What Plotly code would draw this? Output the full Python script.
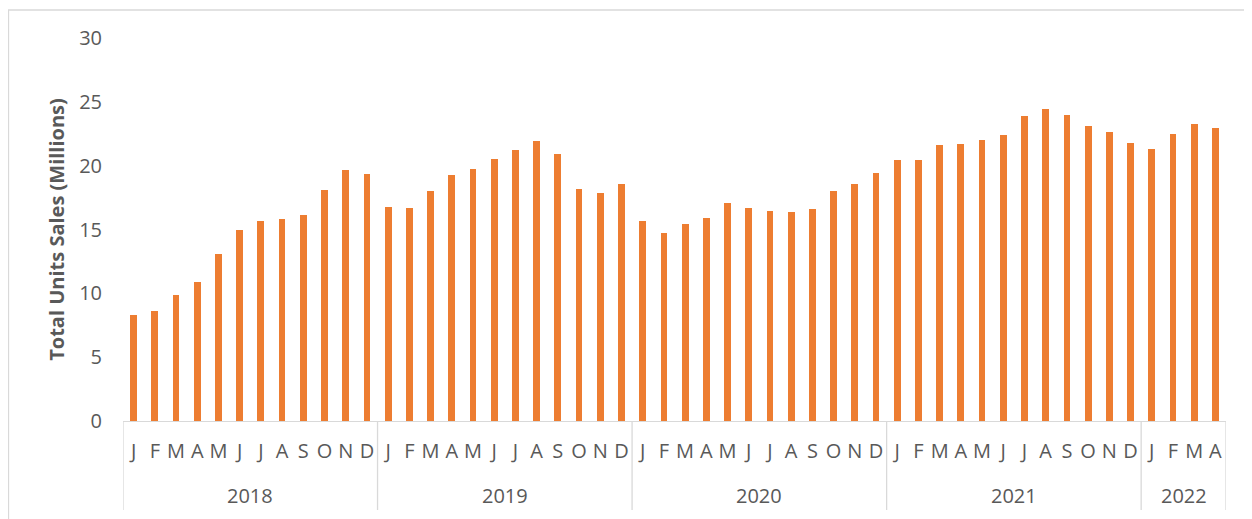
import plotly.graph_objects as go

years = ["2018", "2019", "2020", "2021", "2022"]
months_per_year = [12, 12, 12, 12, 4]
month_letters = ["J", "F", "M", "A", "M", "J", "J", "A", "S", "O", "N", "D"]

sales_2018 = [8.3, 8.6, 9.9, 10.9, 13.1, 15.0, 15.7, 15.8, 16.1, 18.1, 19.65, 19.35]
sales_2019 = [16.8, 16.7, 18.0, 19.25, 19.75, 20.55, 21.2, 21.9, 20.9, 18.15, 17.85, 18.55]
sales_2020 = [15.65, 14.75, 15.4, 15.9, 17.05, 16.7, 16.45, 16.35, 16.6, 18.05, 18.55, 19.45]
sales_2021 = [20.45, 20.45, 21.6, 21.7, 22.0, 22.4, 23.9, 24.4, 24.0, 23.1, 22.65, 21.8]
sales_2022 = [21.3, 22.5, 23.25, 22.95]

series = [sales_2018, sales_2019, sales_2020, sales_2021, sales_2022]

x_idx, y_vals, tick_text = [], [], []
for n, vals in zip(months_per_year, series):
    for i in range(n):
        x_idx.append(len(x_idx))
        y_vals.append(vals[i])
        tick_text.append(month_letters[i])

# page body has an 8px margin; positions below are in page pixels
OFF = 8
W, H = 1252 - OFF, 519 - OFF
L, R, T, B = 123 - OFF, 1226 - OFF, 38 - OFF, 421 - OFF
grey = "#595959"
line_grey = "#d9d9d9"
FONT = "Open Sans"

def py(page_pix):
    return (B - (page_pix - OFF)) / (B - T)

def px(page_pix):
    return ((page_pix - OFF) - L) / (R - L)

fig = go.Figure(go.Bar(
    x=x_idx, y=y_vals, width=0.32, marker=dict(color="#ED7D31", line=dict(width=0)),
))

shapes = []
annotations = []
start = 0
bounds = [-0.5]
for yr, n in zip(years, months_per_year):
    annotations.append(dict(x=start + (n - 1) / 2, y=py(495), xref="x", yref="paper",
                            text=yr, showarrow=False, yanchor="middle",
                            font=dict(family=FONT, size=20, color=grey)))
    start += n
    bounds.append(start - 0.5)
for b in bounds:
    shapes.append(dict(type="line", xref="x", yref="paper", x0=b, x1=b, y0=0, y1=py(510),
                       line=dict(color=line_grey, width=1.3)))
# outer chart border
shapes.append(dict(type="rect", xref="paper", yref="paper", x0=px(8.5), x1=px(1270),
                   y0=py(540), y1=py(10), line=dict(color=line_grey, width=1.3)))

fig.update_layout(
    width=W, height=H,
    margin=dict(l=L, r=W - R, t=T, b=H - B),
    paper_bgcolor="white", plot_bgcolor="white",
    showlegend=False,
    shapes=shapes, annotations=annotations,
    font=dict(family=FONT, color=grey),
    xaxis=dict(range=[-0.5, len(x_idx) - 0.5], tickmode="array", tickvals=x_idx,
               ticktext=tick_text, showgrid=False, zeroline=False, showline=True,
               linecolor=line_grey, linewidth=1.3, ticks="", ticklabelstandoff=12,
               tickfont=dict(family=FONT, size=20, color=grey), tickangle=0),
    yaxis=dict(range=[0, 30], tickvals=[0, 5, 10, 15, 20, 25, 30], showgrid=False,
               zeroline=False, showline=False, ticks="", ticklabelstandoff=20,
               tickfont=dict(family=FONT, size=20, color=grey),
               title=dict(text="<b>Total Units Sales (Millions)</b>", standoff=9,
                          font=dict(family=FONT, size=20, color=grey))),
    bargap=0,
)

fig.write_html("out.html")
